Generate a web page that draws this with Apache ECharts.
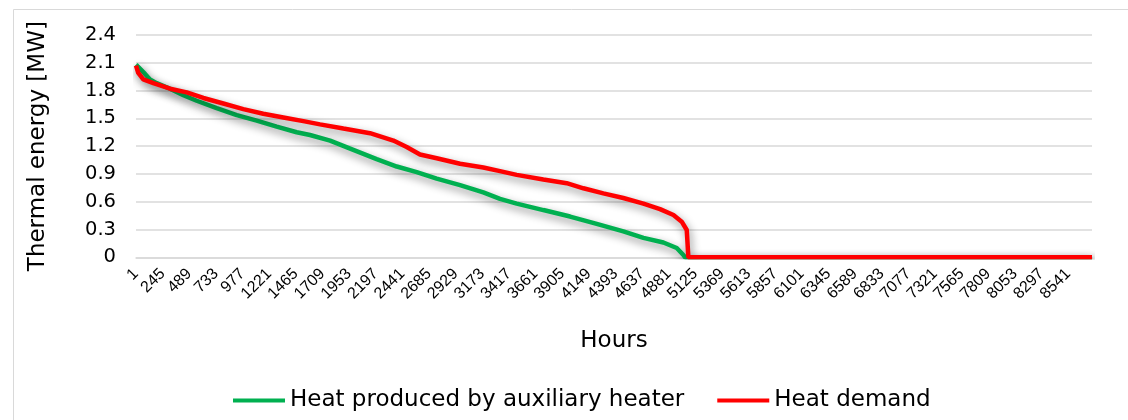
<!DOCTYPE html>
<html>
<head>
<meta charset="utf-8">
<script src="https://cdn.jsdelivr.net/npm/echarts@6/dist/echarts.min.js"></script>
<style>
html,body{margin:0;padding:0;background:#fff;}
#c{width:1128px;height:420px;}
</style>
</head>
<body>
<div id="c"></div>
<script>
// Hours on the x axis (categories 1..8760), labels every 244 hours
const totalHours = 8760;
const labelStep = 244;

// Heat produced by auxiliary heater (green): [hour] / [MW]
const auxHours  = [1, 68, 129, 190, 313, 435, 557, 740, 924, 1107, 1290, 1473, 1595, 1779, 1992, 2206, 2390, 2573, 2756, 2970, 3183, 3336, 3489, 3733, 3978, 4222, 4466, 4650, 4833, 4955, 5016, 5032, 8760];
const auxValues = [2.08, 2.00, 1.92, 1.88, 1.82, 1.75, 1.69, 1.61, 1.535, 1.475, 1.41, 1.35, 1.32, 1.26, 1.16, 1.06, 0.98, 0.92, 0.85, 0.78, 0.70, 0.63, 0.58, 0.51, 0.44, 0.36, 0.28, 0.21, 0.16, 0.10, 0.025, 0, 0];

// Heat demand (red): [hour] / [MW]
const demandHours  = [1, 22, 68, 160, 313, 466, 618, 801, 984, 1167, 1351, 1534, 1687, 1901, 2145, 2359, 2481, 2603, 2756, 2970, 3183, 3336, 3489, 3733, 3947, 4100, 4283, 4466, 4650, 4802, 4925, 5001, 5047, 5062, 8760];
const demandValues = [2.07, 1.99, 1.92, 1.88, 1.82, 1.78, 1.72, 1.66, 1.60, 1.55, 1.51, 1.47, 1.435, 1.39, 1.34, 1.26, 1.19, 1.11, 1.07, 1.01, 0.97, 0.93, 0.89, 0.84, 0.80, 0.745, 0.69, 0.64, 0.58, 0.52, 0.456, 0.385, 0.295, 0, 0];

const categories = [];
for (let h = 1; h <= totalHours; h++) categories.push(String(h));

const pairs = (hs, vs) => hs.map((h, i) => [String(h), vs[i]]);

const FONT = 'DejaVu Sans';
const chart = echarts.init(document.getElementById('c'));
const shadow = {shadowColor: 'rgba(0,0,0,0.45)', shadowBlur: 8, shadowOffsetX: 2, shadowOffsetY: 4};

chart.setOption({
  animation: false,
  backgroundColor: '#fff',
  textStyle: {fontFamily: FONT},
  graphic: [{
    type: 'rect', left: 11, top: 7, z: -1,
    shape: {width: 1200, height: 500},
    style: {fill: 'none', stroke: '#d9d9d9', lineWidth: 1}
  }],
  grid: {left: 136, right: 36, top: 35, bottom: 162.7},
  legend: {
    left: 228, top: 384,
    itemWidth: 52, itemHeight: 14, itemGap: 33,
    icon: 'path://M0,5 L52,5 L52,9 L0,9 Z',
    textStyle: {fontSize: 23, color: '#000', fontFamily: FONT},
    data: ['Heat produced by auxiliary heater', 'Heat demand']
  },
  xAxis: {
    type: 'category',
    data: categories,
    boundaryGap: false,
    name: 'Hours',
    nameLocation: 'middle',
    nameGap: 72,
    nameTextStyle: {fontSize: 23, color: '#000', fontFamily: FONT},
    axisLine: {show: true, lineStyle: {color: '#d9d9d9', width: 1.5}},
    axisTick: {show: false},
    axisLabel: {
      interval: labelStep - 1,
      rotate: 45,
      margin: 14,
      fontSize: 16,
      color: '#000',
      fontFamily: 'Liberation Sans'
    },
    splitLine: {show: false}
  },
  yAxis: {
    type: 'value',
    min: 0, max: 2.4, interval: 0.3,
    name: 'Thermal energy [MW]',
    nameLocation: 'middle',
    nameGap: 86,
    nameRotate: 90,
    nameTextStyle: {fontSize: 23, color: '#000', fontFamily: FONT},
    axisLine: {show: false},
    axisTick: {show: false},
    axisLabel: {margin: 20, fontSize: 19.5, color: '#000', fontFamily: FONT,
      formatter: v => String(Math.round(v * 10) / 10)},
    splitLine: {lineStyle: {color: '#d9d9d9', width: 1.5}}
  },
  series: [
    {
      name: 'Heat produced by auxiliary heater',
      type: 'line',
      data: pairs(auxHours, auxValues),
      symbol: 'none',
      smooth: false,
      color: '#00B050',
      lineStyle: Object.assign({color: '#00B050', width: 4.5}, shadow),
      z: 2
    },
    {
      name: 'Heat demand',
      type: 'line',
      data: pairs(demandHours, demandValues),
      symbol: 'none',
      smooth: false,
      color: '#FF0000',
      lineStyle: Object.assign({color: '#FF0000', width: 4.5}, shadow),
      z: 3
    }
  ]
});
</script>
</body>
</html>
